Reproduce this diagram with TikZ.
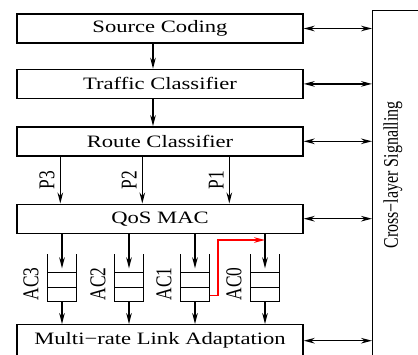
\documentclass[tikz,border=0pt]{standalone}
\usepackage{fontspec}
\usepackage{graphicx}
\setmainfont{Liberation Serif}
\newfontfamily\widefont{Liberation Serif}[FakeStretch=1.3]
\usetikzlibrary{positioning, arrows.meta, calc}

\begin{document}
\begin{tikzpicture}
    [
        x=0.5pt, y=-0.5pt,
        line width=0.7pt,
        layer/.style={draw, rectangle, minimum width=143pt, minimum height=14.5pt, inner sep=0pt,
            font=\widefont\fontsize{8.7}{10}\selectfont},
        queue/.style={rectangle, minimum width=14pt, minimum height=23pt, inner sep=0pt},
        vlabel/.style={rotate=90, anchor=south, inner sep=2.5pt, font=\fontsize{8.7}{10}\selectfont},
        arrow/.style={-{Stealth[length=5.5pt, width=2.8pt]}},
        biarrow/.style={{Stealth[length=5.5pt, width=2.8pt]}-{Stealth[length=5.5pt, width=2.8pt]}}
    ]
        \useasboundingbox (0,0) rectangle (418,354);
        \clip (0,0) rectangle (418,354);
        % =========================================================================
        % NODES
        % =========================================================================
        % --- Layers ---
        \node [layer] (src) at (160,28.5) {Source Coding};
        \node [layer, below=12.5pt of src] (tc) {Traffic Classifier};
        \node [layer, below=13.5pt of tc] (rc) {Route Classifier};
        \node [layer, below=23.5pt of rc] (qos) {QoS MAC};
        \node [layer, minimum height=16pt, anchor=north] (mrla) at (160,324) {Multi−rate Link Adaptation};
        % --- Queues ---
        \node [queue] (q3) at (62,278) {};
        \node [queue] (q2) at (129,278) {};
        \node [queue] (q1) at (195,278) {};
        \node [queue] (q0) at (265,278) {};
        % --- Cross-layer ---
        \node [draw, rectangle, minimum width=29pt, minimum height=180pt, anchor=north west] (xl) at (372,10) {};
        \node [rotate=90, font=\fontsize{8}{10}\selectfont] (xltext) at (393,175)
            {\scalebox{1}[1.3]{Cross−layer Signalling}};
        \coordinate (bend) at (218,240);

        % =========================================================================
        % PATHS
        % =========================================================================
        % --- VERTICAL ---
        \draw [arrow] ([xshift=-3.5pt]src.south) -- ([xshift=-3.5pt]tc.north);
        \draw [arrow] ([xshift=-3.5pt]tc.south) -- ([xshift=-3.5pt]rc.north);
        %  Priorities
        \draw [arrow] ([xshift=22pt]rc.south west) -- ([xshift=22pt]qos.north west)
            node [vlabel, midway] {\scalebox{1}[1.3]{P3}};
        \draw [arrow] ([xshift=63pt]rc.south west) -- ([xshift=63pt]qos.north west)
            node [vlabel, midway] {\scalebox{1}[1.3]{P2}};
        \draw [arrow] ([xshift=106.5pt]rc.south west) -- ([xshift=106.5pt]qos.north west)
            node [vlabel, midway] {\scalebox{1}[1.3]{P1}};
        %  Access categories
        \foreach \q/\ac in {q3/AC3, q2/AC2, q1/AC1, q0/AC0}
        {
            \draw (\q.north west) -- (\q.south west) -- (\q.south east) -- (\q.north east);
            \draw ($(\q.south west)!0.3!(\q.north west)$) -- ($(\q.south east)!0.3!(\q.north east)$);
            \draw ($(\q.south west)!0.61!(\q.north west)$) -- ($(\q.south east)!0.61!(\q.north east)$);
            \draw [arrow] (qos.south -| \q) -- ([yshift=-7pt]\q.north);
            \draw [arrow] (\q.south) -- (mrla.north -| \q);
            \node [vlabel, inner sep=4pt] at ([yshift=-3pt]\q.west) {\scalebox{1}[1.3]{\ac}};
        }
        \draw [arrow, red] ([yshift=3pt]q1.south east) -| (bend) -- (bend -| q0);
        % --- HORIZONTAL ---
        \foreach \b in {src, tc, rc, qos, mrla}
            \draw [biarrow] (\b.east) -- (\b.east -| xl.west);

    \end{tikzpicture}
\end{document}
